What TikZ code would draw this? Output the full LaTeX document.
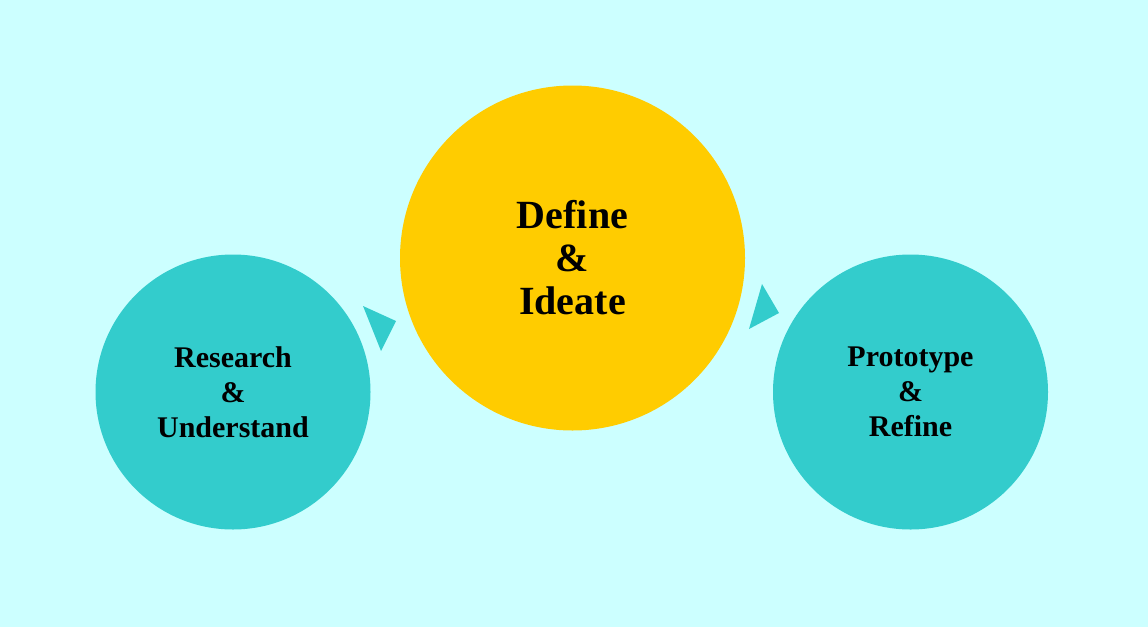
\documentclass[tikz,border=0pt]{standalone}
\usepackage{fontspec}
\setmainfont{Liberation Serif}
\definecolor{paleaqua}{HTML}{CCFFFF}
\definecolor{stagecyan}{HTML}{33CCCC}
\definecolor{stagegold}{HTML}{FFCC00}
\begin{document}
\begin{tikzpicture}[
        x=1pt,
        y=-1pt,
        stage/.style={circle, fill=stagecyan, minimum size=275pt, inner sep=0pt,
            align=center, font=\fontsize{30}{35}\selectfont\bfseries},
        bigstage/.style={stage, fill=stagegold, minimum size=345pt,
            font=\fontsize{40}{43}\selectfont\bfseries}
    ]
        % Background
        \fill[paleaqua] (0,0) rectangle (1148,627);

        % Stages
        \node[stage] (research) at (233,392){Research\\\&\\Understand};
        \node[bigstage] (define) at (572.5,258){Define\\\&\\Ideate};
        \node[stage] (prototype) at (910.5,392){Prototype\\\&\\Refine};

        % Arrow heads
        \fill[stagecyan] (363,306) -- (396,321) -- (381,351) -- cycle;
        \fill[stagecyan] (762,284) -- (779,313) -- (749,329) -- cycle;
    \end{tikzpicture}
\end{document}
